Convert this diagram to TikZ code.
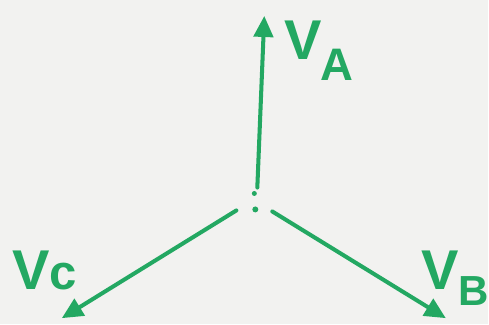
\documentclass[tikz,border=0pt]{standalone}
\usepackage{fontspec}
\setmainfont{Liberation Sans}
\usetikzlibrary{arrows.meta}
\definecolor{paper}{HTML}{F2F2F0}
\definecolor{marker}{HTML}{23A862}

\begin{document}
\begin{tikzpicture}[x=0.02cm,y=-0.02cm,
  phasor/.style={draw=marker, line width=2.3pt, line cap=round, -{Triangle[length=12pt,width=11pt]}},
  lbl/.style={text=marker, font=\bfseries\fontsize{32}{32}\selectfont, anchor=base west, inner sep=0pt}]
\fill[paper] (0,0) rectangle (489,325);
% tails near the centre and the three tips
\coordinate (tA) at (258,188);
\coordinate (tC) at (237,211);
\coordinate (tB) at (273,212);
\coordinate (hA) at (265,16);
\coordinate (hC) at (62,319);
\coordinate (hB) at (447,319);
\draw[phasor] (tA) -- (hA);
\draw[phasor] (tC) -- (hC);
\draw[phasor] (tB) -- (hB);
\fill[marker] (255,194) circle (2.5);
\fill[marker] (256,210) circle (3);
% labels
\node[lbl] (va) at (285,60) {V\kern-1pt\raisebox{-12pt}{\fontsize{26}{26}\selectfont A}};
\node[lbl] (vc) at (12,290) {V\fontsize{28}{28}\selectfont c};
\node[lbl] (vb) at (422,290) {V\raisebox{-9pt}{\fontsize{24}{24}\selectfont B}};
\end{tikzpicture}
\end{document}
